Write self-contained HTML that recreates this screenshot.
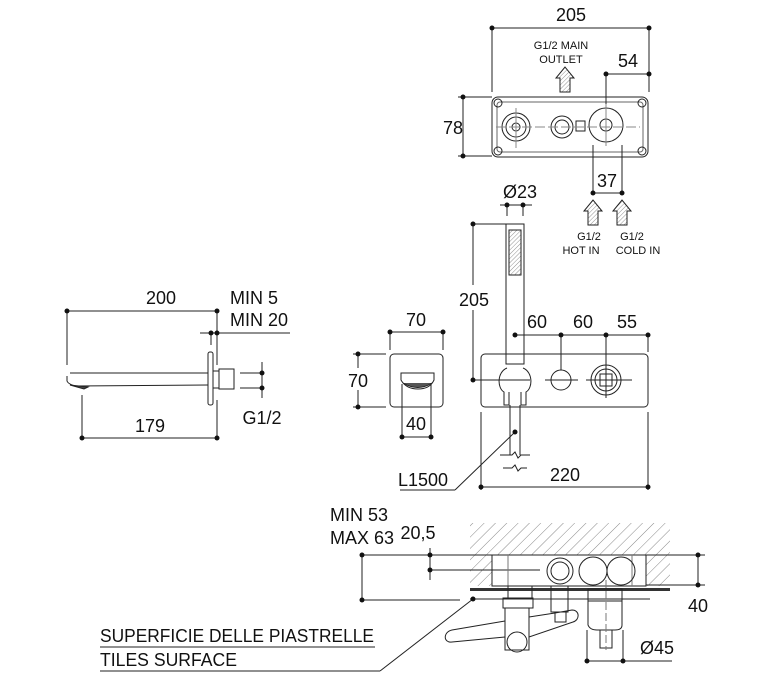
<!DOCTYPE html>
<html><head><meta charset="utf-8"><style>
html,body{margin:0;padding:0;background:#fff}
svg{display:block}
text{font-family:"Liberation Sans",sans-serif;fill:#111}
</style></head><body>
<svg width="766" height="691" viewBox="0 0 766 691" xmlns="http://www.w3.org/2000/svg">
<defs>
<pattern id="h" width="8" height="8" patternUnits="userSpaceOnUse" patternTransform="rotate(45)"><line x1="0" y1="0" x2="0" y2="8" stroke="#888" stroke-width="1"/></pattern>
<pattern id="h2" width="3" height="3" patternUnits="userSpaceOnUse" patternTransform="rotate(45)"><line x1="0" y1="0" x2="0" y2="3" stroke="#777" stroke-width="0.8"/></pattern>
</defs>
<g stroke="#222" stroke-width="1" fill="none">
<!-- TOP VIEW -->
<line x1="492" y1="28" x2="650" y2="28"/>
<line x1="492" y1="28" x2="492" y2="92"/><line x1="649" y1="28" x2="649" y2="92"/>
<rect x="492" y="97" width="156" height="60" rx="6"/>
<rect x="497" y="102" width="146" height="50" rx="3" stroke="#666"/>
<line x1="463" y1="97" x2="463" y2="156"/><line x1="458" y1="97" x2="492" y2="97"/><line x1="458" y1="156" x2="492" y2="156"/>
<line x1="606" y1="74" x2="650" y2="74"/><line x1="606" y1="74" x2="606" y2="125"/>
<circle cx="516" cy="127" r="14"/><circle cx="516" cy="127" r="10"/><circle cx="516" cy="127" r="4"/>
<circle cx="562" cy="127" r="11"/><circle cx="562" cy="127" r="7"/>
<rect x="576" y="121" width="9" height="10"/>
<circle cx="606" cy="125" r="17"/><circle cx="606" cy="125" r="6"/>
<circle cx="498" cy="103" r="4"/><circle cx="642" cy="103" r="4"/><circle cx="498" cy="151" r="4"/><circle cx="642" cy="151" r="4"/>
<line x1="496" y1="127" x2="640" y2="127" stroke="#888" stroke-dasharray="10,3"/>
<line x1="516" y1="108" x2="516" y2="148" stroke="#888"/><line x1="606" y1="104" x2="606" y2="146" stroke="#888"/>
<line x1="593" y1="145" x2="593" y2="193"/><line x1="622" y1="145" x2="622" y2="193"/><line x1="593" y1="193" x2="622" y2="193"/>
<!-- arrows -->
<path d="M560 92 L560 78 L556 78 L565 67 L574 78 L570 78 L570 92 Z" fill="url(#h2)"/>
<path d="M588 225 L588 211 L584 211 L593 200 L602 211 L598 211 L598 225 Z" fill="url(#h2)"/>
<path d="M617 225 L617 211 L613 211 L622 200 L631 211 L627 211 L627 225 Z" fill="url(#h2)"/>
<!-- hand shower -->
<line x1="500" y1="205" x2="532" y2="205"/>
<line x1="507" y1="205" x2="507" y2="216"/><line x1="523" y1="205" x2="523" y2="216"/>
<rect x="506" y="224" width="18" height="140"/>
<rect x="509" y="230" width="12" height="45" fill="url(#h2)"/>
<line x1="473" y1="224" x2="506" y2="224"/>
<line x1="473" y1="224" x2="473" y2="285"/><line x1="473" y1="310" x2="473" y2="380"/>
<line x1="473" y1="380" x2="530" y2="380"/>
<path d="M507 368 C497 372 497 388 504 392 L504 405 L509 405 L509 392"/>
<path d="M523 368 C533 372 533 388 526 392 L526 405 L521 405 L521 392"/>
<line x1="510" y1="405" x2="510" y2="455"/><line x1="520" y1="405" x2="520" y2="455"/>
<path d="M500 455 L512 455 L515 452 L518 458 L521 455 L530 455"/>
<path d="M503 468 L512 468 L515 465 L518 471 L521 468 L527 468"/>
<!-- panel -->
<rect x="481" y="354" width="167" height="53" rx="4"/>
<line x1="515" y1="335" x2="648" y2="335"/>
<line x1="561" y1="335" x2="561" y2="370"/><line x1="606" y1="335" x2="606" y2="365"/><line x1="648" y1="335" x2="648" y2="352"/>
<circle cx="561" cy="380" r="10"/>
<line x1="545" y1="380" x2="578" y2="380"/>
<circle cx="606" cy="380" r="15"/><circle cx="606" cy="380" r="11"/><rect x="600" y="374" width="12" height="12"/>
<line x1="586" y1="380" x2="632" y2="380"/><line x1="606" y1="362" x2="606" y2="398"/>
<line x1="481" y1="412" x2="481" y2="490"/><line x1="648" y1="412" x2="648" y2="490"/>
<line x1="481" y1="487" x2="648" y2="487"/>
<line x1="515" y1="432" x2="455" y2="490"/><line x1="400" y1="490" x2="455" y2="490"/>
<!-- small square -->
<rect x="390" y="354" width="53" height="53" rx="4"/>
<line x1="390" y1="332" x2="443" y2="332"/><line x1="390" y1="332" x2="390" y2="350"/><line x1="443" y1="332" x2="443" y2="350"/>
<line x1="358" y1="354" x2="358" y2="407"/><line x1="353" y1="354" x2="386" y2="354"/><line x1="353" y1="407" x2="386" y2="407"/>
<path d="M401 373 L434 373 L434 380 Q430 389 418 389 Q406 389 401 380 Z"/>
<path d="M403 383 Q418 392 432 383" fill="#555"/>
<line x1="402" y1="384" x2="402" y2="437"/><line x1="431" y1="384" x2="431" y2="437"/><line x1="402" y1="437" x2="431" y2="437"/>
<!-- spout side -->
<line x1="67" y1="311" x2="217" y2="311"/><line x1="67" y1="311" x2="67" y2="365"/><line x1="217" y1="311" x2="217" y2="365"/>
<line x1="200" y1="333" x2="290" y2="333"/><line x1="211" y1="333" x2="211" y2="345"/>
<path d="M70 373 L208 373 M67 376 L67 381 Q68 384 75 386 L208 385"/>
<path d="M70 385 L88 387 L84 389 Z" fill="#444"/>
<rect x="208" y="352" width="5" height="53" rx="2"/>
<rect x="213" y="371" width="6" height="17"/><rect x="219" y="369" width="15" height="20"/>
<line x1="240" y1="373" x2="262" y2="373"/><line x1="240" y1="388" x2="262" y2="388"/>
<line x1="262" y1="362" x2="262" y2="398"/>
<line x1="82" y1="395" x2="82" y2="438"/><line x1="217" y1="400" x2="217" y2="438"/><line x1="82" y1="438" x2="217" y2="438"/>
<!-- bottom section -->
<path d="M470 586 L470 523 L670 523 L670 586 L646 586 L646 555 L492 555 L492 586 Z" fill="url(#h)" stroke="none"/>
<rect x="492" y="555" width="154" height="31" fill="#fff"/>
<line x1="362" y1="555" x2="705" y2="555"/>
<line x1="430" y1="570" x2="540" y2="570"/>
<line x1="362" y1="600" x2="460" y2="600"/>
<line x1="362" y1="555" x2="362" y2="600"/><line x1="430" y1="548" x2="430" y2="580"/>
<line x1="646" y1="585" x2="705" y2="585"/><line x1="698" y1="555" x2="698" y2="585"/>
<line x1="508" y1="555" x2="508" y2="586" stroke="#777"/><line x1="632" y1="555" x2="632" y2="586" stroke="#777"/>
<circle cx="560" cy="571" r="13"/><circle cx="560" cy="571" r="9"/>
<circle cx="593" cy="571" r="14"/><circle cx="621" cy="571" r="14"/>
<rect x="470" y="588" width="200" height="3" fill="#333" stroke="none"/>
<line x1="470" y1="599" x2="650" y2="599"/>
<rect x="508" y="586" width="24" height="12"/><rect x="503" y="598" width="30" height="10"/>
<rect x="505" y="608" width="24" height="42"/>
<circle cx="517" cy="642" r="10"/>
<path d="M529 617 L555 613 M529 637 L573 622 C580 620 580 610 572 610 L555 613 M505 621 L452 630 C443 632 443 643 452 642 L505 637"/>
<rect x="551" y="586" width="17" height="26"/><rect x="555" y="612" width="11" height="10"/>
<rect x="588" y="589" width="34" height="12"/>
<path d="M588 601 L588 625 Q590 630 597 630 L615 630 Q622 630 622 625 L622 601"/>
<rect x="600" y="630" width="12" height="18"/>
<line x1="606" y1="580" x2="606" y2="650" stroke="#777" stroke-dasharray="8,3"/>
<line x1="587" y1="630" x2="587" y2="661"/><line x1="623" y1="630" x2="623" y2="661"/>
<line x1="587" y1="661" x2="672" y2="661"/>
<line x1="473" y1="599" x2="380" y2="671"/>
<line x1="100" y1="647" x2="375" y2="647"/><line x1="100" y1="671" x2="380" y2="671"/>
</g>
<g fill="#111">
<circle cx="492" cy="28" r="2.5"/><circle cx="649" cy="28" r="2.5"/>
<circle cx="463" cy="97" r="2.5"/><circle cx="463" cy="156" r="2.5"/>
<circle cx="606" cy="74" r="2.5"/><circle cx="649" cy="74" r="2.5"/>
<circle cx="593" cy="193" r="2.5"/><circle cx="622" cy="193" r="2.5"/>
<circle cx="507" cy="205" r="2.5"/><circle cx="523" cy="205" r="2.5"/>
<circle cx="473" cy="224" r="2.5"/><circle cx="473" cy="380" r="2.5"/>
<circle cx="515" cy="335" r="2.5"/><circle cx="561" cy="335" r="2.5"/><circle cx="606" cy="335" r="2.5"/><circle cx="648" cy="335" r="2.5"/>
<circle cx="481" cy="487" r="2.5"/><circle cx="648" cy="487" r="2.5"/><circle cx="515" cy="432" r="2.5"/>
<circle cx="390" cy="332" r="2.5"/><circle cx="443" cy="332" r="2.5"/>
<circle cx="358" cy="354" r="2.5"/><circle cx="358" cy="407" r="2.5"/>
<circle cx="402" cy="437" r="2.5"/><circle cx="431" cy="437" r="2.5"/>
<circle cx="67" cy="311" r="2.5"/><circle cx="217" cy="311" r="2.5"/>
<circle cx="211" cy="333" r="2.5"/><circle cx="217" cy="333" r="2.5"/>
<circle cx="262" cy="373" r="2.5"/><circle cx="262" cy="388" r="2.5"/>
<circle cx="82" cy="438" r="2.5"/><circle cx="217" cy="438" r="2.5"/>
<circle cx="362" cy="555" r="2.5"/><circle cx="362" cy="600" r="2.5"/>
<circle cx="430" cy="555" r="2.5"/><circle cx="430" cy="570" r="2.5"/>
<circle cx="698" cy="555" r="2.5"/><circle cx="698" cy="585" r="2.5"/>
<circle cx="587" cy="661" r="2.5"/><circle cx="623" cy="661" r="2.5"/>
<circle cx="473" cy="599" r="2.5"/>
</g>
<g font-size="18" text-anchor="middle">
<text x="571" y="21">205</text>
<text x="628" y="67">54</text>
<text x="453" y="134">78</text>
<text x="607" y="187">37</text>
<text x="520" y="198">Ø23</text>
<rect x="459" y="287" width="30" height="22" fill="#fff"/>
<text x="474" y="306">205</text>
<text x="537" y="328">60</text><text x="583" y="328">60</text><text x="627" y="328">55</text>
<text x="565" y="481">220</text>
<text x="416" y="326">70</text>
<rect x="344" y="368" width="26" height="22" fill="#fff"/>
<text x="358" y="387">70</text>
<text x="416" y="430">40</text>
<text x="161" y="304">200</text>
<text x="150" y="432">179</text>
<text x="262" y="424">G1/2</text>
<text x="657" y="654">Ø45</text>
<text x="698" y="612">40</text>
<text x="418" y="539">20,5</text>
</g>
<g font-size="18">
<text x="230" y="304">MIN 5</text>
<text x="230" y="326">MIN 20</text>
<text x="330" y="521">MIN 53</text>
<text x="330" y="544">MAX 63</text>
<text x="398" y="486" textLength="50" lengthAdjust="spacingAndGlyphs">L1500</text>
<text x="100" y="642" textLength="274" lengthAdjust="spacingAndGlyphs">SUPERFICIE DELLE PIASTRELLE</text>
<text x="100" y="666" textLength="137" lengthAdjust="spacingAndGlyphs">TILES SURFACE</text>
</g>
<g font-size="11" text-anchor="middle">
<text x="561" y="49">G1/2  MAIN</text>
<text x="561" y="63">OUTLET</text>
<text x="589" y="240">G1/2</text><text x="581" y="254">HOT IN</text>
<text x="632" y="240">G1/2</text><text x="638" y="254">COLD IN</text>
</g>
</svg>
</body></html>
